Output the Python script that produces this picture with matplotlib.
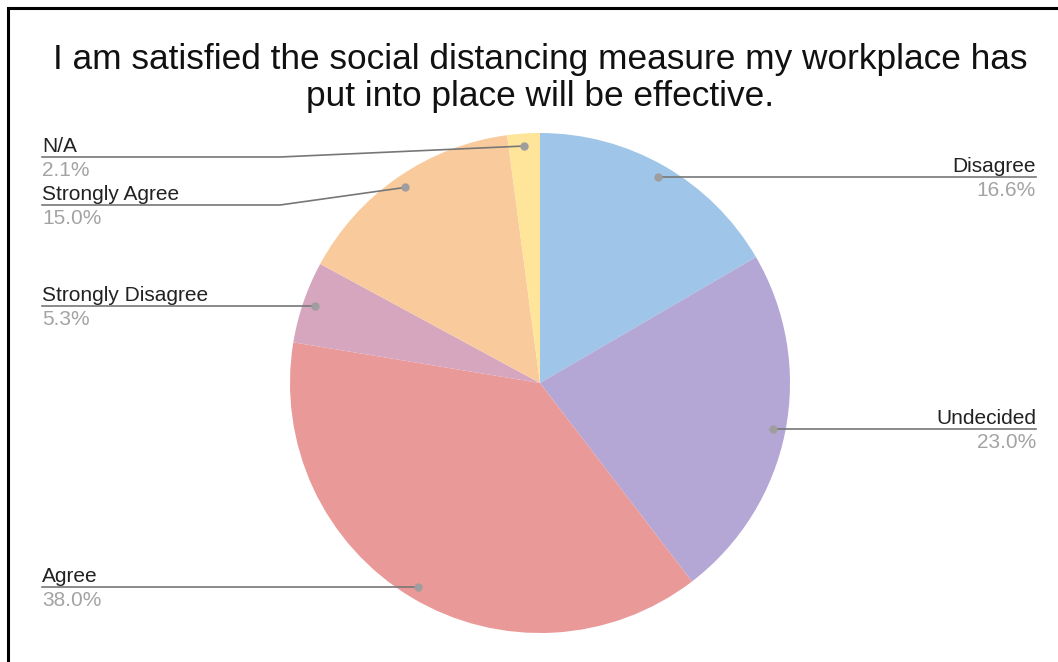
import numpy as np
import matplotlib
matplotlib.use("Agg")
import matplotlib.pyplot as plt

# ---- data ----
categories = ["Disagree", "Undecided", "Agree", "Strongly Disagree", "Strongly Agree", "N/A"]
values = [16.6, 23.0, 38.0, 5.3, 15.0, 2.1]
colors = ["#9FC5E8", "#B4A7D6", "#EA9999", "#D5A6BD", "#F9CB9C", "#FFE599"]
title = "I am satisfied the social distancing measure my workplace has\nput into place will be effective."

plt.rcParams['font.family'] = ['Liberation Sans', 'DejaVu Sans']

W, H = 1058, 662
fig = plt.figure(figsize=(W / 100, H / 100), dpi=100)
ax = fig.add_axes([0, 0, 1, 1])

cx, cy, r = 540, H - 383, 250
ax.pie(values, colors=colors, startangle=90, counterclock=False,
       center=(cx, cy), radius=r, wedgeprops=dict(linewidth=0))
ax.set_xlim(0, W)
ax.set_ylim(0, H)
ax.set_aspect('equal')
ax.axis('off')

# label layout: side, label line y (pixels from top)
layout = {
    "Disagree": ("right", None),
    "Undecided": ("right", None),
    "Agree": ("left", None),
    "Strongly Disagree": ("left", None),
    "Strongly Agree": ("left", 205),
    "N/A": ("left", 157),
}

total = sum(values)
cum = 0.0
line_col = "#777777"
fs = 15
for cat, v in zip(categories, values):
    mid = (cum + v / 2) / total
    cum += v
    ang = np.deg2rad(90 - 360 * mid)
    dx, dy = cx + 0.95 * r * np.cos(ang), cy + 0.95 * r * np.sin(ang)
    side, ly = layout[cat]
    ly = dy if ly is None else H - ly
    pct = f"{v / total * 100:.1f}%"
    if side == "left":
        x0 = 42
        bend = 280
        if abs(ly - dy) > 1:
            ax.plot([x0, bend, dx], [ly, ly, dy], color=line_col, lw=1.2, zorder=3)
        else:
            ax.plot([x0, dx], [ly, dy], color=line_col, lw=1.2, zorder=3)
        ha, xt = "left", x0
    else:
        x1 = 1036
        ax.plot([dx, x1], [ly, ly], color=line_col, lw=1.2, zorder=3)
        ha, xt = "right", x1
    ax.text(xt, ly + 5, cat, ha=ha, va="baseline", fontsize=fs, color="#222222")
    ax.text(xt, ly - 4, pct, ha=ha, va="top", fontsize=fs, color="#A3A3A3")
    ax.plot([dx], [dy], "o", color="#9E9E9E", markersize=5, zorder=4)

ax.text(540, H - 78, title, ha="center", va="center", fontsize=25.4,
        color="#111111", linespacing=1.12)

# frame
ax.plot([8, 8, W], [0, H - 8, H - 8], color="black", lw=2.2, clip_on=False,
        solid_joinstyle="miter")

fig.savefig("out.png", dpi=100)
